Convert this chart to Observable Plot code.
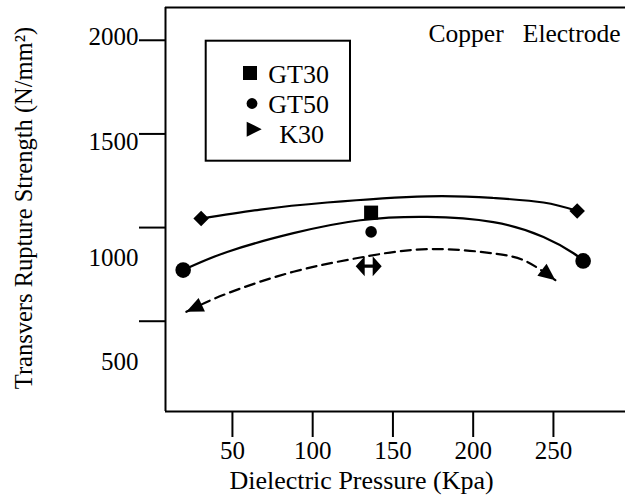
<!DOCTYPE html>
<html><head><meta charset="utf-8">
<script src="https://cdn.jsdelivr.net/npm/d3@7"></script>
<script src="https://cdn.jsdelivr.net/npm/@observablehq/plot@0.6"></script>
<style>
body{margin:0;background:#fff;}
#chart{position:relative;width:625px;height:495px;overflow:hidden;}
#legend{position:absolute;left:0;top:0;pointer-events:none;}
</style></head><body><div id="chart"></div>
<script>
// ---- data ----
const xTicks = [50, 100, 150, 200, 250];
const yTicks = [2000, 1500, 1000, 500];
const yTickLabels = ["2000", "1500", "1000", "500"];

// upper solid curve (diamond end markers)
const gt30LineX = [30.5, 67.4, 109, 171.3, 212.6, 243.8, 264.8];
const gt30LineY = [1048, 1096, 1134, 1167, 1158, 1134, 1089];
// middle solid curve (circle end markers)
const gt50LineX = [19.3, 46.7, 88, 129.7, 171.3, 212.6, 243.8, 262.5, 268.5];
const gt50LineY = [773, 870, 970, 1039, 1057, 1029, 950, 863, 822];
// dashed curve (arrow ends)
const k30LineX = [21.3, 46.7, 88, 129.7, 171.3, 212.6, 233.6, 251.2];
const k30LineY = [550, 648, 764, 840, 885, 862, 817, 719];
// single points near 136 kPa
const midX = [136.4, 136.4, 134.9];
const midY = [1080, 977, 794];
const legendNames = ["GT30", "GT50", "K30"];
const titleText = "Copper\u00a0\u00a0\u00a0Electrode";
const xTitle = "Dielectric Pressure (Kpa)";
const yTitle = "Transvers Rupture Strength (N/mm\u00b2)";

// ---- helpers ----
const pts = (xs, ys) => xs.map((x, i) => ({x, y: ys[i]}));
const gt30 = pts(gt30LineX, gt30LineY);
const gt50 = pts(gt50LineX, gt50LineY);
const k30 = pts(k30LineX, k30LineY);
const mids = pts(midX, midY);

function arrowHeadSymbol(angleDeg, len, halfW) {
  const a = angleDeg * Math.PI / 180, ux = Math.cos(a), uy = Math.sin(a);
  const px = -uy, py = ux;
  return {draw(ctx) {
    const bx = -len * ux, by = -len * uy;
    ctx.moveTo(0, 0);
    ctx.lineTo(bx + halfW * px, by + halfW * py);
    ctx.lineTo(bx - halfW * px, by - halfW * py);
    ctx.closePath();
  }};
}
const doubleArrowSymbol = {draw(ctx) {
  ctx.moveTo(-13, 0); ctx.lineTo(-4, -10); ctx.lineTo(-4, 10); ctx.closePath();
  ctx.moveTo(13, 0); ctx.lineTo(4, -10); ctx.lineTo(4, 10); ctx.closePath();
  ctx.moveTo(-4, -1.6); ctx.lineTo(4, -1.6); ctx.lineTo(4, 1.6); ctx.lineTo(-4, 1.6); ctx.closePath();
}};

const xDomain = [8.3, 294.9];
const yDomain = [18, 2175];
const yLabelDy = [-3, 7.6, 30.4, 40.3];
const font = "'Liberation Serif', 'Times New Roman', serif";

const plot = Plot.plot({
  width: 625, height: 495,
  marginLeft: 165, marginRight: 0, marginTop: 7, marginBottom: 84,
  x: {domain: xDomain},
  y: {domain: yDomain},
  style: {fontFamily: font, fontSize: "25px", color: "black", background: "white"},
  marks: [
    Plot.ruleX([xDomain[0]], {strokeWidth: 2}),
    Plot.ruleY([yDomain[0], yDomain[1]], {strokeWidth: 2}),
    Plot.axisX({ticks: xTicks, tickSize: 26, tickPadding: 4, strokeWidth: 2, label: null, fontSize: 25}),
    Plot.axisY({ticks: yTicks, tickSize: 26, tickFormat: () => "", strokeWidth: 2, label: null}),
    ...yTicks.map((v, i) => Plot.text([v], {
      y: d => d, frameAnchor: "left", dx: -27, dy: yLabelDy[i],
      textAnchor: "end", lineAnchor: "middle", text: () => yTickLabels[i], fontSize: 25
    })),
    Plot.text([yTitle], {text: d => d, frameAnchor: "left", dx: -141, dy: -1.5, rotate: -90,
      textAnchor: "middle", lineAnchor: "middle", fontSize: 24.5}),
    Plot.text([xTitle], {text: d => d, frameAnchor: "bottom-left", dx: 196, dy: 69,
      textAnchor: "middle", lineAnchor: "middle", fontSize: 26}),
    Plot.text([titleText], {text: d => d, frameAnchor: "top-right", dx: -5, dy: 26.5,
      textAnchor: "end", lineAnchor: "middle", fontSize: 25.5}),
    Plot.line(gt30, {x: "x", y: "y", curve: "natural", stroke: "black", strokeWidth: 2.2}),
    Plot.line(gt50, {x: "x", y: "y", curve: "natural", stroke: "black", strokeWidth: 2.2}),
    Plot.line(k30, {x: "x", y: "y", curve: "natural", stroke: "black", strokeWidth: 2.2, strokeDasharray: "10,6"}),
    Plot.dot([gt30[0], gt30[gt30.length - 1]], {x: "x", y: "y", symbol: "diamond2", r: 7, fill: "black", stroke: "none"}),
    Plot.dot([gt50[0], gt50[gt50.length - 1]], {x: "x", y: "y", r: 7.8, fill: "black", stroke: "none"}),
    Plot.dot([k30[0]], {x: "x", y: "y", symbol: arrowHeadSymbol(155, 17, 7.5), r: 5, fill: "black", stroke: "none"}),
    Plot.dot([k30[k30.length - 1]], {x: "x", y: "y", symbol: arrowHeadSymbol(38, 17, 7.5), r: 5, fill: "black", stroke: "none"}),
    Plot.dot([mids[0]], {x: "x", y: "y", symbol: "square", r: 7.9, fill: "black", stroke: "none"}),
    Plot.dot([mids[1]], {x: "x", y: "y", r: 5.8, fill: "black", stroke: "none"}),
    Plot.dot([mids[2]], {x: "x", y: "y", symbol: doubleArrowSymbol, r: 5, fill: "black", stroke: "none"})
  ]
});
const chart = document.getElementById("chart");
chart.appendChild(plot);

// legend box (overlay)
const ns = "http://www.w3.org/2000/svg";
const lg = document.createElementNS(ns, "svg");
lg.setAttribute("id", "legend");
lg.setAttribute("width", 625); lg.setAttribute("height", 495);
const mk = (tag, attrs) => { const e = document.createElementNS(ns, tag); for (const k in attrs) e.setAttribute(k, attrs[k]); lg.appendChild(e); return e; };
mk("rect", {x: 205.7, y: 40.7, width: 144.3, height: 120, fill: "white", stroke: "black", "stroke-width": 2});
mk("rect", {x: 243, y: 66, width: 14, height: 14, fill: "black"});
mk("circle", {cx: 252, cy: 103.5, r: 5.4, fill: "black"});
mk("path", {d: "M246.7,121.7L261.7,129.2L246.7,136.7Z", fill: "black"});
const lx = [268.3, 268.3, 279.3], ly = [83, 113, 143];
legendNames.forEach((n, i) => {
  const t = mk("text", {x: lx[i], y: ly[i], "font-family": font, "font-size": 26, fill: "black"});
  t.textContent = n;
});
chart.appendChild(lg);
</script></body></html>
